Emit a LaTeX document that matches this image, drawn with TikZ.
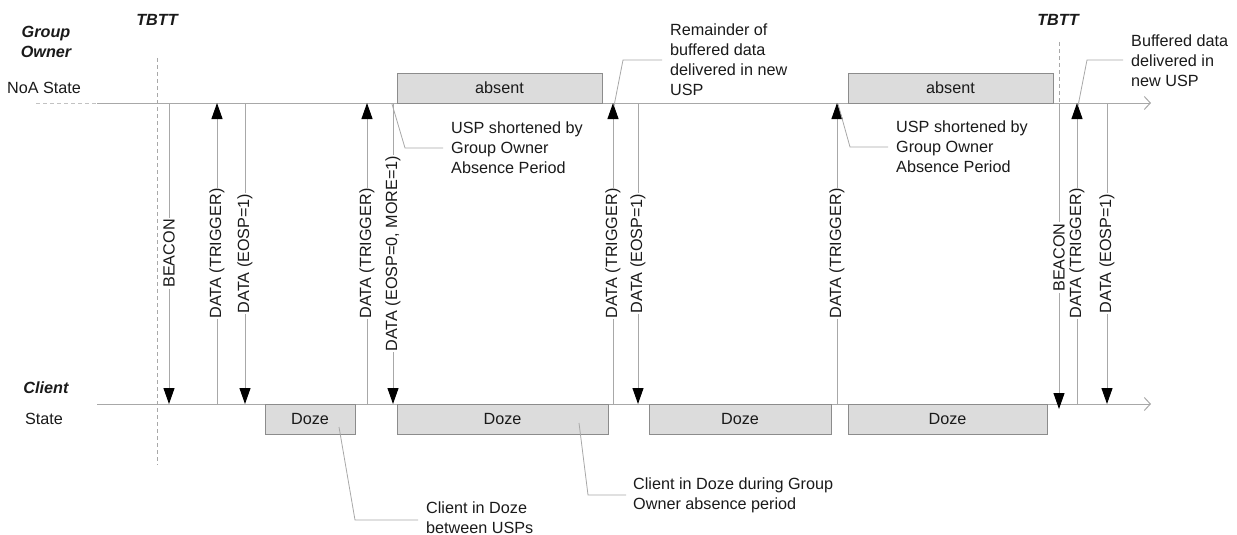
\documentclass[tikz,border=0pt]{standalone}
\usepackage{fontspec}
\setmainfont{Liberation Sans}
\usetikzlibrary{arrows.meta}
\definecolor{linegray}{HTML}{A8A8A8}
\definecolor{boxfill}{HTML}{DCDCDC}
\definecolor{boxdraw}{HTML}{8C8C8C}
\definecolor{txt}{HTML}{1A1A1A}
\begin{document}
\begin{tikzpicture}[x=1pt,y=-1pt,
  font=\fontsize{16.2}{20}\selectfont, text=txt,
  axis/.style={draw=linegray, line width=1pt},
  msg/.style={draw=linegray, line width=1pt},
  tipdown/.style={msg, -{Triangle[length=16pt,width=11pt,color=black]}},
  tipup/.style={msg, -{Triangle[length=16pt,width=11pt,color=black]}},
  lbl/.style={fill=white, rotate=90, inner xsep=1pt, inner ysep=0pt},
  statebox/.style={draw=boxdraw, fill=boxfill, line width=0.8pt, outer sep=0pt, inner sep=0pt, anchor=north west},
  leader/.style={draw=linegray, line width=0.8pt},
  note/.style={align=left, anchor=west, inner sep=0pt},
  heading/.style={font=\fontsize{16.2}{20}\selectfont\bfseries\itshape, align=center},
  tbtt/.style={draw=linegray, line width=0.8pt, dash pattern=on 4pt off 3pt}
]
\useasboundingbox (0,0) rectangle (1237,535);

% left headings
\node[heading] (go) at (46,42) {Group\\Owner};
\node (noa) at (44,88) {NoA State};
\node[heading] (cli) at (46,388) {Client};
\node (cst) at (44,419) {State};
\node[heading] (tb1) at (157,20) {TBTT};
\node[heading] (tb2) at (1058,20) {TBTT};

% time axes
\coordinate (gs) at (36,103);
\coordinate (g0) at (97,103);
\coordinate (ge) at (1151,103);
\coordinate (c0) at (97,404);
\coordinate (ce) at (1151,404);
\draw[axis, dash pattern=on 4pt off 3pt, draw=linegray!70] (gs) -- (g0);
\draw[axis, -{Straight Barb[length=6pt,width=13pt]}] (g0) -- (ce |- g0) coordinate (gend);
\draw[axis, -{Straight Barb[length=6pt,width=13pt]}] (c0) -- (ce);

% TBTT dashed markers
\coordinate (t1a) at (157,58);
\coordinate (t1b) at (157,465);
\coordinate (t2a) at (1059,42);
\coordinate (t2b) at (1059,103);
\draw[tbtt] (t1a) -- (t1b);
\draw[tbtt] (t2a) -- (t2b);

% state boxes
\node[statebox, minimum width=205pt, minimum height=30pt] (abs1) at (397,73) {absent};
\node[statebox, minimum width=205pt, minimum height=30pt] (abs2) at (848,73) {absent};
\node[statebox, minimum width=90pt, minimum height=30pt] (dz1) at (265,404) {Doze};
\node[statebox, minimum width=211pt, minimum height=30pt] (dz2) at (397,404) {Doze};
\node[statebox, minimum width=182pt, minimum height=30pt] (dz3) at (649,404) {Doze};
\node[statebox, minimum width=199pt, minimum height=30pt] (dz4) at (848,404) {Doze};

% message end points
\foreach \n/\x in {a/169,b/217,c/245,d/367,e/393,f/613,g/638,h/837,i/1059,j/1077,k/1107}{
  \coordinate (G\n) at (\x,103);
  \coordinate (C\n) at (\x,404);
}
\coordinate (Ci2) at (1059,409);

% messages
\draw[tipdown] (Ga) -- node[lbl] (la) {BEACON} (Ca);
\draw[tipup] (Cb) -- node[lbl] (lb) {DATA (TRIGGER)} (Gb);
\draw[tipdown] (Gc) -- node[lbl] (lc) {DATA (EOSP=1)} (Cc);
\draw[tipup] (Cd) -- node[lbl] (ld) {DATA (TRIGGER)} (Gd);
\draw[tipdown] (Ge) -- node[lbl] (le) {DATA (EOSP=0, MORE=1)} (Ce);
\draw[tipup] (Cf) -- node[lbl] (lf) {DATA (TRIGGER)} (Gf);
\draw[tipdown] (Gg) -- node[lbl] (lg) {DATA (EOSP=1)} (Cg);
\draw[tipup] (Ch) -- node[lbl] (lh) {DATA (TRIGGER)} (Gh);
\draw[tipdown] (Gi) -- node[lbl, pos=0.505] (li) {BEACON} (Ci2);
\draw[tipup] (Cj) -- node[lbl] (lj) {DATA (TRIGGER)} (Gj);
\draw[tipdown] (Gk) -- node[lbl] (lk) {DATA (EOSP=1)} (Ck);

% annotations
\node[note] (n1) at (451,148) {USP shortened by\\Group Owner\\Absence Period};
\coordinate (n1a) at (392,104);
\coordinate (n1b) at (405,148);
\coordinate (n1c) at (443,148);
\draw[leader] (n1a) -- (n1b) -- (n1c);

\node[note] (n2) at (896,147) {USP shortened by\\Group Owner\\Absence Period};
\coordinate (n2a) at (838,104);
\coordinate (n2b) at (850,147);
\coordinate (n2c) at (888,147);
\draw[leader] (n2a) -- (n2b) -- (n2c);

\node[note] (n3) at (670,60) {Remainder of\\buffered data\\delivered in new\\USP};
\coordinate (n3a) at (614,106);
\coordinate (n3b) at (623,60);
\coordinate (n3c) at (662,60);
\draw[leader] (n3a) -- (n3b) -- (n3c);

\node[note] (n4) at (1131,61) {Buffered data\\delivered in\\new USP};
\coordinate (n4a) at (1078,106);
\coordinate (n4b) at (1087,60);
\coordinate (n4c) at (1123,60);
\draw[leader] (n4a) -- (n4b) -- (n4c);

\node[note] (n5) at (426,518) {Client in Doze\\between USPs};
\coordinate (n5a) at (339,427);
\coordinate (n5b) at (355,520);
\coordinate (n5c) at (418,520);
\draw[leader] (n5a) -- (n5b) -- (n5c);

\node[note] (n6) at (633,495) {Client in Doze during Group\\Owner absence period};
\coordinate (n6a) at (579,423);
\coordinate (n6b) at (588,495);
\coordinate (n6c) at (626,495);
\draw[leader] (n6a) -- (n6b) -- (n6c);
\end{tikzpicture}
\end{document}
